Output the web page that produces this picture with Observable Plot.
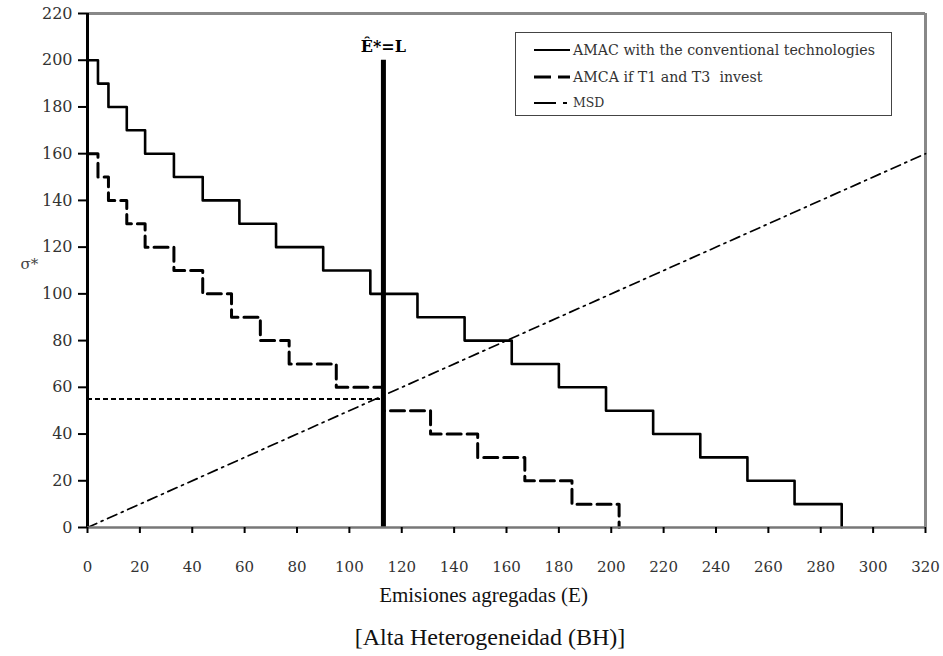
<!DOCTYPE html>
<html><head><meta charset="utf-8">
<script src="https://cdn.jsdelivr.net/npm/d3@7"></script>
<script src="https://cdn.jsdelivr.net/npm/@observablehq/plot@0.6"></script>
<style>
body{margin:0;background:#fff;}
#wrap{position:relative;width:943px;height:656px;overflow:hidden;background:#fff;}
g[aria-label="x-axis tick label"], g[aria-label="y-axis tick label"]{color:#333;}
#legend{position:absolute;left:515px;top:32px;width:377px;height:84px;border:1.3px solid #444;background:#fff;box-sizing:border-box;}
#legend text{white-space:pre;}
#caption{position:absolute;left:0;top:624px;width:980px;text-align:center;font-family:"Liberation Serif",serif;font-size:24px;color:#111;}
</style></head><body>
<div id="wrap"></div>
<script>
// AMAC with the conventional technologies (step: sigma value starting at each emission level)
const amacE = [0,4,8,15,22,33,44,58,72,90,108,126,144,162,180,198,216,234,252,270,288];
const amacS = [200,190,180,170,160,150,140,130,120,110,100,90,80,70,60,50,40,30,20,10,0];
// AMCA if T1 and T3 invest
const amcaE = [0,4,8,15,22,33,44,55,66,77,95,113,131,149,167,185,203];
const amcaS = [160,150,140,130,120,110,100,90,80,70,60,50,40,30,20,10,0];
// MSD
const msdE = [0,320];
const msdS = [0,160];
// Equilibrium
const eHat = 113;
const eHatTop = 200;
const sigmaStar = 55;
const eHatLabel = "Ê*=L";
// Axes
const xTicks = [0,20,40,60,80,100,120,140,160,180,200,220,240,260,280,300,320];
const yTicks = [0,20,40,60,80,100,120,140,160,180,200,220];
const xTitle = "Emisiones agregadas (E)";
const yTitle = "σ*";
const caption = "[Alta Heterogeneidad (BH)]";
// Legend
const legendLabels = ["AMAC with the conventional technologies","AMCA if T1 and T3  invest","MSD"];
const legendDash = ["none","17,7","22,7,4,7"];
const legendWidth = [2.2,3.2,1.8];
const legendFont = [14.2,14.2,12.5];

const amac = amacE.map((e,i)=>({e, s: amacS[i]}));
const amca = amcaE.map((e,i)=>({e, s: amcaS[i]}));
const msd = msdE.map((e,i)=>({e, s: msdS[i]}));

const chart = Plot.plot({
  width: 943, height: 615,
  marginLeft: 87, marginRight: 18, marginTop: 13, marginBottom: 88,
  x: {domain: [0,320]},
  y: {domain: [0,220]},
  style: {fontFamily: "DejaVu Serif", fontSize: "15px", background: "#fff", color: "#000"},
  marks: [
    Plot.ruleY([220], {stroke: "#888", strokeWidth: 3}),
    Plot.ruleX([320], {stroke: "#888", strokeWidth: 3}),
    Plot.line(msd, {x: "e", y: "s", stroke: "#000", strokeWidth: 1.7, strokeDasharray: "10,5,2,5"}),
    Plot.ruleY([{y: sigmaStar, x1: 0, x2: eHat}], {y: "y", x1: "x1", x2: "x2", stroke: "#000", strokeWidth: 2, strokeDasharray: "5,3"}),
    Plot.line(amca, {x: "e", y: "s", curve: "step-after", stroke: "#000", strokeWidth: 3, strokeDasharray: "14,6"}),
    Plot.line(amac, {x: "e", y: "s", curve: "step-after", stroke: "#000", strokeWidth: 2.6}),
    Plot.ruleX([{x: eHat, y1: 0, y2: eHatTop}], {x: "x", y1: "y1", y2: "y2", stroke: "#000", strokeWidth: 5}),
    Plot.text([{x: eHat, y: eHatTop, t: eHatLabel}], {x: "x", y: "y", text: "t", dy: -13, fontWeight: "bold", fontSize: 16, fill: "#000"}),
    Plot.ruleX([0], {stroke: "#000", strokeWidth: 3}),
    Plot.ruleY([0], {stroke: "#777", strokeWidth: 2.5}),
    Plot.axisX({ticks: xTicks, tickSize: 6, tickPadding: 28, label: null, stroke: "#000", strokeWidth: 2, fontSize: 15, tickFormat: d => String(d)}),
    Plot.axisY({ticks: yTicks, tickSize: 9, tickPadding: 6, label: null, stroke: "#000", strokeWidth: 2, fontSize: 16, tickFormat: d => String(d)}),
    Plot.text([xTitle], {frameAnchor: "bottom", dy: 74, dx: -23, fontFamily: "Liberation Serif", fontSize: 21, fill: "#111"}),
    Plot.text([yTitle], {frameAnchor: "left", dx: -67, dy: -6, fontSize: 15, fill: "#444"})
  ]
});
const wrap = document.getElementById("wrap");
wrap.appendChild(chart);

// legend
const leg = document.createElement("div");
leg.id = "legend";
wrap.appendChild(leg);
const ls = d3.select(leg).append("svg").attr("width", 375).attr("height", 82).style("position","absolute").style("left","0").style("top","0");
const rowY = [17, 44, 70];
legendLabels.forEach((lab, i) => {
  ls.append("line").attr("x1", 18).attr("x2", 54).attr("y1", rowY[i]).attr("y2", rowY[i])
    .attr("stroke", "#000").attr("stroke-width", legendWidth[i])
    .attr("stroke-dasharray", legendDash[i] === "none" ? null : legendDash[i]);
  ls.append("text").attr("x", 57).attr("y", rowY[i]).attr("dy", "0.35em")
    .attr("font-family", "DejaVu Serif").attr("font-size", legendFont[i]).attr("fill", "#333").text(lab);
});

const cap = document.createElement("div");
cap.id = "caption";
cap.textContent = caption;
wrap.appendChild(cap);
</script>
</body></html>
